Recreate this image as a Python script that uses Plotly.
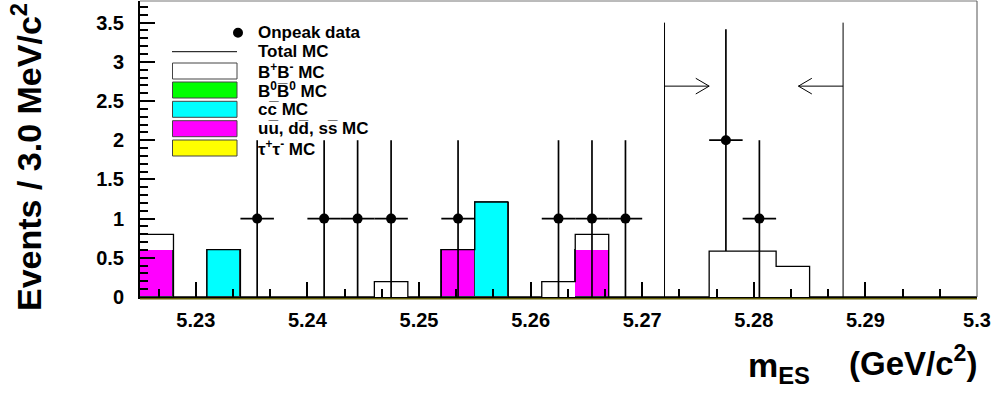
import plotly.graph_objects as go

# ---------------- data ----------------
bin_start = 5.225
bin_width = 0.003
n_bins = 25

data_counts = [0, 0, 0, 1, 0, 1, 1, 1, 0, 1, 0, 0, 1, 1, 1, 0, 0, 2, 1, 0, 0, 0, 0, 0, 0]
tau_mc  = [0.0] * 25
uds_mc  = [0.605, 0, 0, 0, 0, 0, 0, 0, 0, 0.605, 0, 0, 0, 0.605, 0, 0, 0, 0, 0, 0, 0, 0, 0, 0, 0]
cc_mc   = [0, 0, 0.605, 0, 0, 0, 0, 0, 0, 0, 1.21, 0, 0, 0, 0, 0, 0, 0, 0, 0, 0, 0, 0, 0, 0]
b0b0_mc = [0.0] * 25
bpbm_mc = [0.195, 0, 0, 0, 0, 0, 0, 0.195, 0, 0, 0, 0, 0.195, 0.195, 0, 0, 0, 0.585, 0.585, 0.39, 0, 0, 0, 0, 0]

x_ticks = [5.23, 5.24, 5.25, 5.26, 5.27, 5.28, 5.29, 5.30]
x_tick_labels = ["5.23", "5.24", "5.25", "5.26", "5.27", "5.28", "5.29", "5.3"]
y_ticks = [0, 0.5, 1, 1.5, 2, 2.5, 3, 3.5]
y_tick_labels = ["0", "0.5", "1", "1.5", "2", "2.5", "3", "3.5"]

cut_low, cut_high = 5.272, 5.288
cut_line_top = 3.5
arrow_y = 2.69
arrow_len = 0.004

legend_labels = ["Onpeak data", "Total MC", "B<sup>+</sup>B<sup>-</sup> MC",
                 "B<sup>0</sup>B\u0305<sup>0</sup> MC", "cc\u0305 MC",
                 "uu\u0305, dd\u0305, ss\u0305 MC", "\u03c4<sup>+</sup>\u03c4<sup>-</sup> MC"]

# ---------------- derived ----------------
centers = [bin_start + bin_width * (i + 0.5) for i in range(n_bins)]
edges = [bin_start + bin_width * i for i in range(n_bins + 1)]
x_max = edges[-1]
y_max = 3.776
total_mc = [a + b + c + d + e for a, b, c, d, e in zip(tau_mc, uds_mc, cc_mc, b0b0_mc, bpbm_mc)]

FONT = "Liberation Sans, Arial, Helvetica, sans-serif"
L, R, T, B = 140, 977, 1, 297
W, H = R - L, B - T
def px(x): return (x - L) / W
def py(y): return (B - y) / H

fig = go.Figure()

def nz(v):
    return [val if val > 0 else None for val in v]

for vals, col, lw in [(tau_mc, "#ffff00", 1), (uds_mc, "#ff00ff", 1),
                      (cc_mc, "#00ffff", 1), (b0b0_mc, "#00ff00", 1),
                      (bpbm_mc, "#ffffff", 0)]:
    fig.add_trace(go.Bar(x=centers, y=nz(vals), width=bin_width, marker_color=col,
                         marker_line=dict(color="#2a3a3a", width=lw),
                         showlegend=False, hoverinfo="skip"))

# total MC outline as step line
fig.add_trace(go.Scatter(x=edges, y=total_mc + [total_mc[-1]], mode="lines",
                         line=dict(color="black", width=1.3, shape="hv"),
                         showlegend=False, hoverinfo="skip"))

# data points
dx = [c for c, n in zip(centers, data_counts) if n > 0]
dy = [n for n in data_counts if n > 0]
fig.add_trace(go.Scatter(x=dx, y=dy, mode="markers",
                         marker=dict(color="black", size=10),
                         error_y=dict(type="data", array=[v ** 0.5 for v in dy], color="black",
                                      thickness=1.7, width=0),
                         error_x=dict(type="constant", value=bin_width / 2, color="black",
                                      thickness=1.7, width=0),
                         showlegend=False, hoverinfo="skip"))

shapes = []
# cut lines and arrows
hx = 0.0012
hy = 0.10
for xc, d in [(cut_low, 1), (cut_high, -1)]:
    shapes.append(dict(type="line", xref="x", yref="y", x0=xc, x1=xc, y0=0, y1=cut_line_top,
                       line=dict(color="black", width=1)))
    tip = xc + d * arrow_len
    shapes.append(dict(type="line", xref="x", yref="y", x0=xc, x1=tip, y0=arrow_y, y1=arrow_y,
                       line=dict(color="black", width=1)))
    shapes.append(dict(type="line", xref="x", yref="y", x0=tip - d * hx, x1=tip, y0=arrow_y + hy, y1=arrow_y,
                       line=dict(color="black", width=1)))
    shapes.append(dict(type="line", xref="x", yref="y", x0=tip - d * hx, x1=tip, y0=arrow_y - hy, y1=arrow_y,
                       line=dict(color="black", width=1)))

# frame: top and right
shapes.append(dict(type="line", xref="paper", yref="paper", x0=0, x1=1, y0=1, y1=1,
                   line=dict(color="#777777", width=1)))
shapes.append(dict(type="line", xref="paper", yref="paper", x0=1, x1=1, y0=0, y1=1,
                   line=dict(color="#555555", width=1)))
# olive bottom line (zero-height histograms)
shapes.append(dict(type="line", xref="paper", yref="paper", x0=0, x1=1, y0=py(298.8), y1=py(298.8),
                   line=dict(color="#615c00", width=1.5)))

# legend
row_y = [32.7, 51.7, 71, 90, 109.3, 128.7, 148]
box_cols = [None, None, "#ffffff", "#00ff00", "#00ffff", "#ff00ff", "#ffff00"]
shapes.append(dict(type="circle", xref="paper", yref="paper", x0=px(233), x1=px(243),
                   y0=py(37.7), y1=py(27.7), fillcolor="black", line=dict(color="black", width=0)))
shapes.append(dict(type="line", xref="paper", yref="paper", x0=px(172), x1=px(237),
                   y0=py(row_y[1]), y1=py(row_y[1]), line=dict(color="black", width=1)))
for yy, col in zip(row_y[2:], box_cols[2:]):
    shapes.append(dict(type="rect", xref="paper", yref="paper", x0=px(172.5), x1=px(237),
                       y0=py(yy + 8), y1=py(yy - 8), fillcolor=col,
                       line=dict(color="#444444", width=1)))

annotations = []
for yy, lab in zip(row_y, legend_labels):
    annotations.append(dict(xref="paper", yref="paper", x=px(256), y=py(yy), text=lab,
                            showarrow=False, xanchor="left", yanchor="middle",
                            font=dict(family=FONT, size=17, color="black", weight="bold")))

# axis titles
annotations.append(dict(xref="paper", yref="paper", x=px(27), y=py(157), text="Events / 3.0 MeV/c<sup>2</sup>",
                        textangle=-90, showarrow=False, xanchor="center", yanchor="middle",
                        font=dict(family=FONT, size=34, color="black", weight="bold")))
annotations.append(dict(xref="paper", yref="paper", x=px(746), y=py(367), text="m<sub>ES</sub>",
                        showarrow=False, xanchor="left", yanchor="middle",
                        font=dict(family=FONT, size=34, color="black", weight="bold")))
annotations.append(dict(xref="paper", yref="paper", x=px(979), y=py(361), text="(GeV/c<sup>2</sup>)",
                        showarrow=False, xanchor="right", yanchor="middle",
                        font=dict(family=FONT, size=33, color="black", weight="bold")))

fig.update_layout(
    width=995, height=397,
    margin=dict(l=L, r=995 - R, t=T, b=397 - B),
    paper_bgcolor="white", plot_bgcolor="white",
    barmode="stack", bargap=0,
    shapes=shapes, annotations=annotations,
    showlegend=False,
)
fig.update_xaxes(range=[bin_start, x_max], tickvals=x_ticks, ticktext=x_tick_labels,
                 ticks="inside", ticklen=15, tickwidth=1.5, tickcolor="black",
                 showline=True, linecolor="black", linewidth=2, showgrid=False, zeroline=False,
                 tickfont=dict(family=FONT, size=20, color="black", weight="bold"),
                 ticklabelstandoff=4,
                 minor=dict(dtick=bin_width * 10 / 9, tick0=5.23, ticks="inside", ticklen=8,
                            tickwidth=1.5, tickcolor="black", showgrid=False))
fig.update_yaxes(range=[0, y_max], tickvals=y_ticks, ticktext=y_tick_labels,
                 ticks="inside", ticklen=15, tickwidth=1.5, tickcolor="black",
                 showline=True, linecolor="black", linewidth=2, showgrid=False, zeroline=False,
                 tickfont=dict(family=FONT, size=20, color="black", weight="bold"),
                 ticklabelstandoff=10,
                 minor=dict(dtick=0.1, tick0=0, ticks="inside", ticklen=8,
                            tickwidth=1.5, tickcolor="black", showgrid=False))

fig.write_html("out.html")
